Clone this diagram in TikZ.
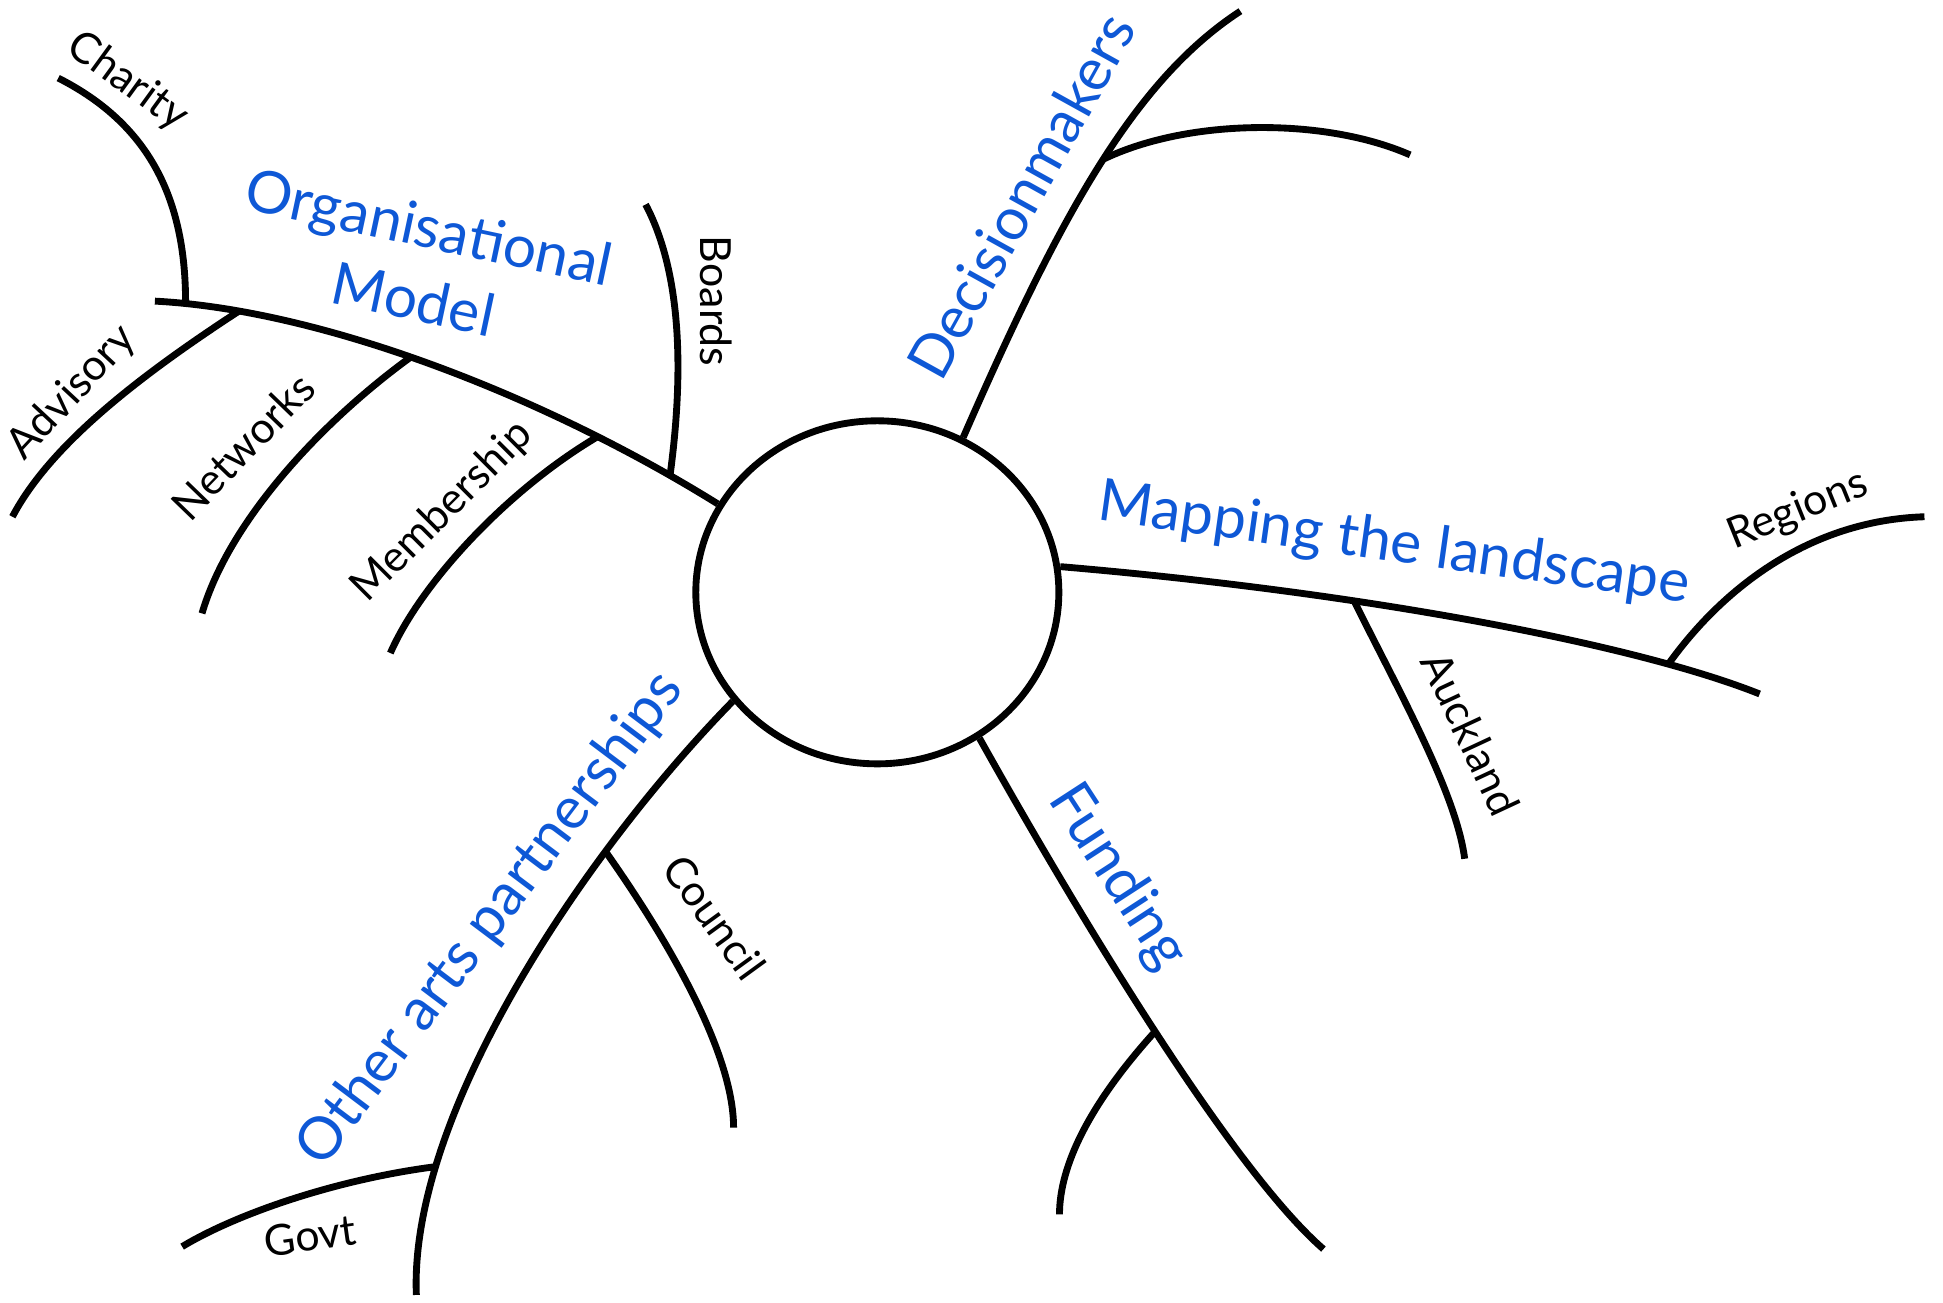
\documentclass[tikz,border=0pt]{standalone}
\usepackage{fontspec}
\setmainfont{Lato}
\usetikzlibrary{shapes.geometric}
\definecolor{topicblue}{RGB}{14,88,214}

\begin{document}
\begin{tikzpicture}[x=0.01239cm, y=-0.01239cm,
    branch/.style={line width=1.95pt},
    topic/.style={text=topicblue, font=\fontsize{16.7}{21}\selectfont, inner sep=0pt},
    leaf/.style={font=\fontsize{12.2}{15}\selectfont, inner sep=0pt}]
    \useasboundingbox (0,0) rectangle (1568,1051);
    \node (hub) [ellipse, draw, branch, minimum width=3.63cm, minimum height=3.43cm] at (708,478) {};
    % free ends of the branches
    \coordinate (orgend) at (125,243);
    \coordinate (boardsend) at (521,165);
    \coordinate (memend) at (315,527);
    \coordinate (netend) at (163,495);
    \coordinate (advend) at (10,417);
    \coordinate (charend) at (47,63);
    \coordinate (decend) at (1001,9);
    \coordinate (decsubend) at (1138,125);
    \coordinate (mapend) at (1420,560);
    \coordinate (auckend) at (1182,693);
    \coordinate (regend) at (1553,417);
    \coordinate (fundend) at (1068,1008);
    \coordinate (fundsubend) at (855,980);
    \coordinate (artsend) at (336,1045);
    \coordinate (counend) at (592,910);
    \coordinate (govtend) at (147,1006);
    % main branches
    \draw [branch] (hub.151) .. controls (440,320) and (260,250) .. (orgend)
      coordinate [pos=0.09] (jboards) coordinate [pos=0.22] (jmem)
      coordinate [pos=0.54] (jnet) coordinate [pos=0.84] (jadv) coordinate [pos=0.94] (jchar);
    \draw [branch] (hub.61) .. controls (855,175) and (915,65) .. (decend)
      coordinate [pos=0.52] (jdec);
    \draw [branch] (hub.8) .. controls (1100,478) and (1320,520) .. (mapend)
      coordinate [pos=0.34] (jauck) coordinate [pos=0.8] (jreg);
    \draw [branch] (hub.-55) .. controls (860,720) and (990,940) .. (fundend)
      coordinate [pos=0.52] (jfund);
    \draw [branch] (hub.-143) .. controls (470,690) and (330,900) .. (artsend)
      coordinate [pos=0.28] (jcoun) coordinate [pos=0.78] (jgovt);
    % sub branches
    \draw [branch] (jboards) .. controls (552,300) and (550,220) .. (boardsend);
    \draw [branch] (jmem) .. controls (410,395) and (340,470) .. (memend);
    \draw [branch] (jnet) .. controls (260,340) and (185,420) .. (netend);
    \draw [branch] (jadv) .. controls (110,305) and (40,360) .. (advend);
    \draw [branch] (jchar) .. controls (150,160) and (120,100) .. (charend);
    \draw [branch] (jdec) .. controls (960,95) and (1070,95) .. (decsubend);
    \draw [branch] (jauck) .. controls (1130,560) and (1175,640) .. (auckend);
    \draw [branch] (jreg) .. controls (1390,475) and (1460,420) .. (regend);
    \draw [branch] (jfund) .. controls (880,890) and (855,940) .. (fundsubend);
    \draw [branch] (jcoun) .. controls (540,760) and (592,850) .. (counend);
    \draw [branch] (jgovt) .. controls (270,952) and (190,980) .. (govtend);
    % topics
    \node (orgmodel) [topic, rotate=-12, align=center] at (340,212) {Organisational\\Model};
    \node (decision) [topic, rotate=61] at (824,158) {Decisionmakers};
    \node (mapping) [topic, rotate=-8] at (1125,440) {Mapping the landscape};
    \node (funding) [topic, rotate=-57] at (902,708) {Funding};
    \node (otherarts) [topic, rotate=53] at (396,742) {Other arts partnerships};
    % leaves
    \node (charity) [leaf, rotate=-36] at (103,66) {Charity};
    \node (advisory) [leaf, rotate=47] at (58,317) {Advisory};
    \node (networks) [leaf, rotate=46] at (196,360) {Networks};
    \node (membership) [leaf, rotate=45] at (357,413) {Membership};
    \node (boards) [leaf, rotate=-90] at (578,243) {Boards};
    \node (regions) [leaf, rotate=22] at (1451,412) {Regions};
    \node (auckland) [leaf, rotate=-65] at (1187,592) {Auckland};
    \node (council) [leaf, rotate=-54] at (577,740) {Council};
    \node (govt) [leaf, rotate=8] at (250,997) {Govt};
\end{tikzpicture}
\end{document}
